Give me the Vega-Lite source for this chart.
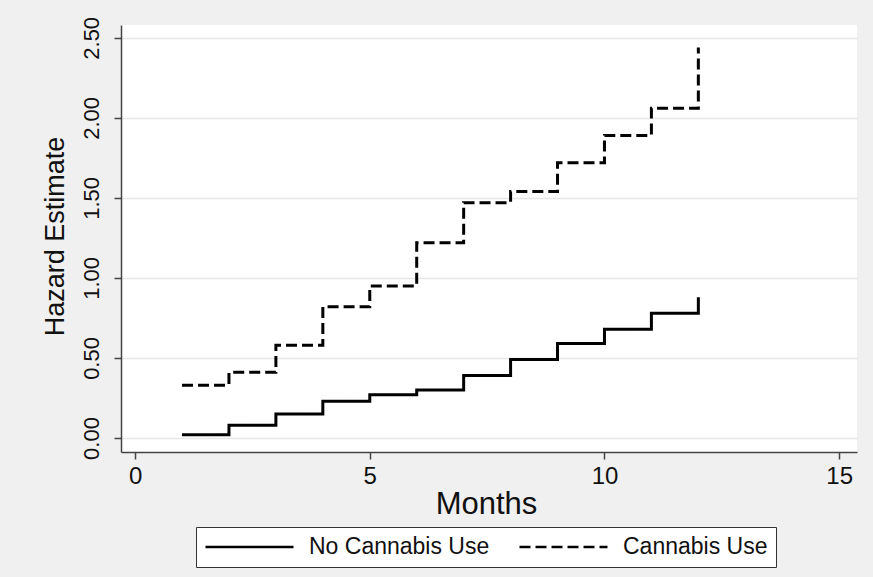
{
  "$schema": "https://vega.github.io/schema/vega-lite/v6.json",
  "autosize": {"type": "none"},
  "width": 736,
  "height": 427,
  "padding": {"left": 121, "top": 25, "right": 16, "bottom": 125},
  "background": "#f0f0f0",
  "config": {
    "view": {"fill": "#ffffff", "stroke": null},
    "font": "Liberation Sans",
    "axis": {"labelFont": "Liberation Sans", "titleFont": "Liberation Sans", "titleFontWeight": "normal", "labelColor": "#111111", "titleColor": "#111111"},
    "legend": {"labelFont": "Liberation Sans"}
  },
  "data": {
    "values": [
      {"month": 1, "group": "No Cannabis Use", "hazard": 0.02},
      {"month": 2, "group": "No Cannabis Use", "hazard": 0.08},
      {"month": 3, "group": "No Cannabis Use", "hazard": 0.15},
      {"month": 4, "group": "No Cannabis Use", "hazard": 0.23},
      {"month": 5, "group": "No Cannabis Use", "hazard": 0.27},
      {"month": 6, "group": "No Cannabis Use", "hazard": 0.30},
      {"month": 7, "group": "No Cannabis Use", "hazard": 0.39},
      {"month": 8, "group": "No Cannabis Use", "hazard": 0.49},
      {"month": 9, "group": "No Cannabis Use", "hazard": 0.59},
      {"month": 10, "group": "No Cannabis Use", "hazard": 0.68},
      {"month": 11, "group": "No Cannabis Use", "hazard": 0.78},
      {"month": 12, "group": "No Cannabis Use", "hazard": 0.88},
      {"month": 1, "group": "Cannabis Use", "hazard": 0.33},
      {"month": 2, "group": "Cannabis Use", "hazard": 0.41},
      {"month": 3, "group": "Cannabis Use", "hazard": 0.58},
      {"month": 4, "group": "Cannabis Use", "hazard": 0.82},
      {"month": 5, "group": "Cannabis Use", "hazard": 0.95},
      {"month": 6, "group": "Cannabis Use", "hazard": 1.22},
      {"month": 7, "group": "Cannabis Use", "hazard": 1.47},
      {"month": 8, "group": "Cannabis Use", "hazard": 1.54},
      {"month": 9, "group": "Cannabis Use", "hazard": 1.72},
      {"month": 10, "group": "Cannabis Use", "hazard": 1.89},
      {"month": 11, "group": "Cannabis Use", "hazard": 2.06},
      {"month": 12, "group": "Cannabis Use", "hazard": 2.44}
    ]
  },
  "mark": {"type": "line", "interpolate": "step-after", "color": "#000000", "strokeWidth": 3, "strokeCap": "butt"},
  "encoding": {
    "x": {
      "field": "month", "type": "quantitative",
      "scale": {"domain": [-0.3, 15.38], "nice": false, "zero": false},
      "axis": {
        "title": "Months", "titleFontSize": 31, "titleX": 365, "titleY": 61, "titleBaseline": "alphabetic", "titleAnchor": null,
        "values": [0, 5, 10, 15], "format": "d",
        "labelFontSize": 24, "labelPadding": 5, "labelBaseline": "top",
        "tickSize": 7, "tickColor": "#444444", "tickWidth": 1.5,
        "domainColor": "#444444", "domainWidth": 1.5,
        "grid": false, "labelFlush": false, "labelOverlap": false
      }
    },
    "y": {
      "field": "hazard", "type": "quantitative",
      "scale": {"domain": [-0.0875, 2.58], "nice": false, "zero": false},
      "axis": {
        "title": "Hazard Estimate", "titleFontSize": 27, "titleAngle": -90, "titleX": -58, "titleY": 211, "titleBaseline": "alphabetic", "titleAlign": "center",
        "values": [0, 0.5, 1, 1.5, 2, 2.5], "format": ".2f",
        "labelFontSize": 22, "labelAngle": -90, "labelAlign": "center", "labelBaseline": "alphabetic", "labelPadding": 16,
        "tickSize": 7, "tickColor": "#444444", "tickWidth": 1.5,
        "domainColor": "#444444", "domainWidth": 1.5,
        "grid": true, "gridColor": "#e6e6e6", "gridWidth": 1.5,
        "labelFlush": false, "labelOverlap": false
      }
    },
    "strokeDash": {
      "field": "group", "type": "nominal",
      "scale": {"domain": ["No Cannabis Use", "Cannabis Use"], "range": [[1, 0], [11, 5]]},
      "legend": {
        "title": null, "orient": "none", "legendX": 75, "legendY": 502, "direction": "horizontal",
        "symbolType": "stroke", "symbolSize": 7744, "symbolStrokeWidth": 2.5, "symbolStrokeColor": "#000000",
        "clipHeight": 24, "labelFontSize": 23, "labelColor": "#111111", "labelOffset": 14, "labelLimit": 400,
        "columnPadding": 28, "padding": 8,
        "fillColor": "#ffffff", "strokeColor": "#333333"
      }
    }
  }
}
